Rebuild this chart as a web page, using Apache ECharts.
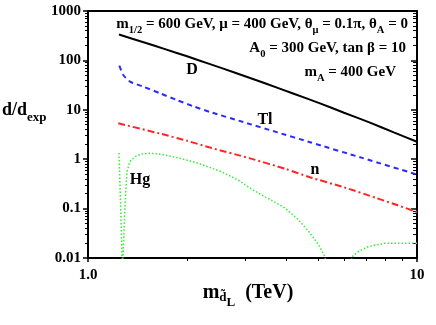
<!DOCTYPE html>
<html>
<head>
<meta charset="utf-8">
<script src="https://cdn.jsdelivr.net/npm/echarts@6/dist/echarts.min.js"></script>
<style>
  html, body { margin: 0; padding: 0; background: #fff; }
  #container { width: 436px; height: 325px; }
</style>
</head>
<body>
<div id="container"></div>
<script>
var myChart = echarts.init(document.getElementById('container'));

// values (x in TeV, y = d/d_exp)
var dX  = [1.242, 1.5, 1.714, 2.0, 2.349, 2.8, 3.451, 4.2, 5.073, 6.0, 7.195, 8.5, 10];
var dY  = [334, 225, 169, 121, 84.2, 56.2, 34.4, 21.4, 13.5, 8.73, 5.5, 3.5, 2.26];

var tlX = [1.245, 1.280, 1.342, 1.473, 1.655, 1.860, 2.089, 2.349, 2.965, 3.746, 4.73, 6.85, 10];
var tlY = [78.1, 50.6, 37.1, 29.4, 21.6, 15.8, 11.8, 9.02, 5.65, 3.53, 2.21, 1.05, 0.490];

var nX  = [1.236, 1.655, 2.0, 2.349, 3.108, 4.0, 4.73, 6.0, 7.54, 8.7, 10];
var nY  = [5.33, 3.3, 2.36, 1.72, 1.04, 0.631, 0.43, 0.27, 0.163, 0.118, 0.0854];

var hgX = [1.242, 1.255, 1.269, 1.272, 1.278, 1.293, 1.302, 1.314, 1.339, 1.387, 1.452, 1.540, 1.671, 1.877, 2.160, 2.542, 2.857, 3.173, 3.97, 4.37, 4.70, 5.03, 5.25, 5.8, 6.35, 6.62, 7.10, 7.47, 8.01, 9.0, 10];
var hgY = [1.336, 0.149, 0.0105, 0.001, 0.0106, 0.0866, 0.22, 0.558, 0.89, 1.12, 1.27, 1.32, 1.26, 1.07, 0.83, 0.56, 0.38, 0.238, 0.103, 0.0587, 0.0336, 0.0183, 0.0105, 0.0005, 0.0106, 0.0134, 0.0169, 0.0183, 0.0198, 0.0198, 0.0198];

var xMajor = [1, 10];
var xMinor = [2, 3, 4, 5, 6, 7, 8, 9];
var yMajor = [0.01, 0.1, 1, 10, 100, 1000];
var yMinor = function() {
  var out = [];
  for (var d = 0.01; d < 1000; d *= 10) {
    for (var k = 2; k < 10; k++) out.push(+(d * k).toPrecision(3));
  }
  return out;
}();

function pairs(xs, ys) {
  return xs.map(function(x, i) { return [x, ys[i]]; });
}

var FONT = '"Liberation Serif", "Times New Roman", serif';
var black = '#000';

var baseX = { type: 'log', min: 1, max: 10, gridIndex: 0, splitLine: { show: false } };
var baseY = { type: 'log', min: 0.01, max: 1000, gridIndex: 0, splitLine: { show: false } };

var textRich = {
  m: { fontFamily: FONT, fontWeight: 'bold', fontSize: 15, color: black },
  s: { fontFamily: FONT, fontWeight: 'bold', fontSize: 10.5, color: black, lineHeight: 23, verticalAlign: 'bottom' }
};

function label(x, y, text, align, size) {
  return {
    type: 'text', x: x, y: y, z: 100,
    style: {
      text: text, rich: textRich,
      fontFamily: FONT, fontWeight: 'bold', fontSize: size || 15, fill: black,
      align: align || 'center', verticalAlign: 'middle'
    }
  };
}

function curve(name, xs, ys, style, smooth) {
  return {
    name: name, type: 'line', xAxisIndex: 0, yAxisIndex: 0,
    data: pairs(xs, ys), showSymbol: false, clip: true, smooth: smooth || false,
    lineStyle: style
  };
}

var option = {
  animation: false,
  backgroundColor: '#fff',
  grid: { left: 88, right: 19, top: 11, bottom: 67, outerBoundsMode: 'none' },
  xAxis: [
    Object.assign({}, baseX, {
      position: 'bottom',
      axisLine: { show: true, lineStyle: { color: black, width: 2 } },
      axisTick: { show: true, inside: false, length: 4, customValues: xMajor, lineStyle: { color: black, width: 1.5 } },
      axisLabel: {
        show: true, margin: 10, customValues: xMajor,
        fontFamily: FONT, fontWeight: 'bold', fontSize: 15, color: black,
        formatter: function(v) { return v === 1 ? '1.0' : String(v); }
      }
    }),
    Object.assign({}, baseX, {
      position: 'bottom',
      axisLine: { show: false },
      axisTick: { show: true, inside: false, length: 3, customValues: xMinor, lineStyle: { color: black, width: 1 } },
      axisLabel: { show: false }
    }),
    Object.assign({}, baseX, {
      position: 'top',
      axisLine: { show: true, lineStyle: { color: black, width: 2 } },
      axisTick: { show: false },
      axisLabel: { show: false }
    })
  ],
  yAxis: [
    Object.assign({}, baseY, {
      position: 'left',
      axisLine: { show: true, lineStyle: { color: black, width: 2 } },
      axisTick: { show: true, inside: false, length: 5, customValues: yMajor, lineStyle: { color: black, width: 1.5 } },
      axisLabel: {
        show: true, margin: 7, customValues: yMajor,
        fontFamily: FONT, fontWeight: 'bold', fontSize: 15, color: black,
        formatter: function(v) { return String(v); }
      }
    }),
    Object.assign({}, baseY, {
      position: 'left',
      axisLine: { show: false },
      axisTick: { show: true, inside: false, length: 3, customValues: yMinor, lineStyle: { color: black, width: 1 } },
      axisLabel: { show: false }
    }),
    Object.assign({}, baseY, {
      position: 'right',
      axisLine: { show: true, lineStyle: { color: black, width: 2 } },
      axisTick: { show: true, inside: true, length: 6, customValues: yMajor, lineStyle: { color: black, width: 1.5 } },
      axisLabel: { show: false }
    }),
    Object.assign({}, baseY, {
      position: 'right',
      axisLine: { show: false },
      axisTick: { show: true, inside: true, length: 4, customValues: yMinor, lineStyle: { color: black, width: 1 } },
      axisLabel: { show: false }
    })
  ],
  series: [
    curve('D', dX, dY, { color: '#000', width: 2 }, 0.2),
    curve('Tl', tlX, tlY, { color: '#2a2aff', width: 2, type: [5, 4] }, 0.2),
    curve('n', nX, nY, { color: '#ff2424', width: 2, type: [7, 3, 2, 3] }, 0.2),
    curve('Hg', hgX, hgY, { color: '#33ee33', width: 1.5, type: [1.5, 2] })
  ],
  graphic: [
    label(408, 24, '{m|m}{s|1/2}{m| = 600 GeV, μ = 400 GeV, θ}{s|μ}{m| = 0.1π, θ}{s|A}{m| = 0}', 'right'),
    label(406, 48, '{m|A}{s|0}{m| = 300 GeV, tan β = 10}', 'right'),
    label(396, 72, '{m|m}{s|A}{m| = 400 GeV}', 'right'),
    label(192, 70, 'D', 'center', 16),
    label(265, 120, 'Tl', 'center', 16),
    label(315, 170, 'n', 'center', 16),
    label(140, 180, 'Hg', 'center', 16),
    {
      type: 'text', x: 2, y: 110, z: 100,
      style: {
        text: '{b|d/d}{s|exp}',
        rich: {
          b: { fontFamily: FONT, fontWeight: 'bold', fontSize: 18, color: black },
          s: { fontFamily: FONT, fontWeight: 'bold', fontSize: 13, color: black, lineHeight: 28, verticalAlign: 'bottom' }
        },
        align: 'left', verticalAlign: 'middle'
      }
    },
    {
      type: 'text', x: 248, y: 293, z: 100,
      style: {
        text: '{b|m}{s|d\u0303}{t|L}{b|  (TeV)}',
        rich: {
          b: { fontFamily: FONT, fontWeight: 'bold', fontSize: 20, color: black },
          s: { fontFamily: FONT, fontWeight: 'bold', fontSize: 13, color: black, lineHeight: 32, verticalAlign: 'bottom', padding: [0, 0, 5, 0] },
          t: { fontFamily: FONT, fontWeight: 'bold', fontSize: 13, color: black, lineHeight: 32, verticalAlign: 'bottom' }
        },
        align: 'center', verticalAlign: 'middle'
      }
    }
  ]
};

myChart.setOption(option);
</script>
</body>
</html>
